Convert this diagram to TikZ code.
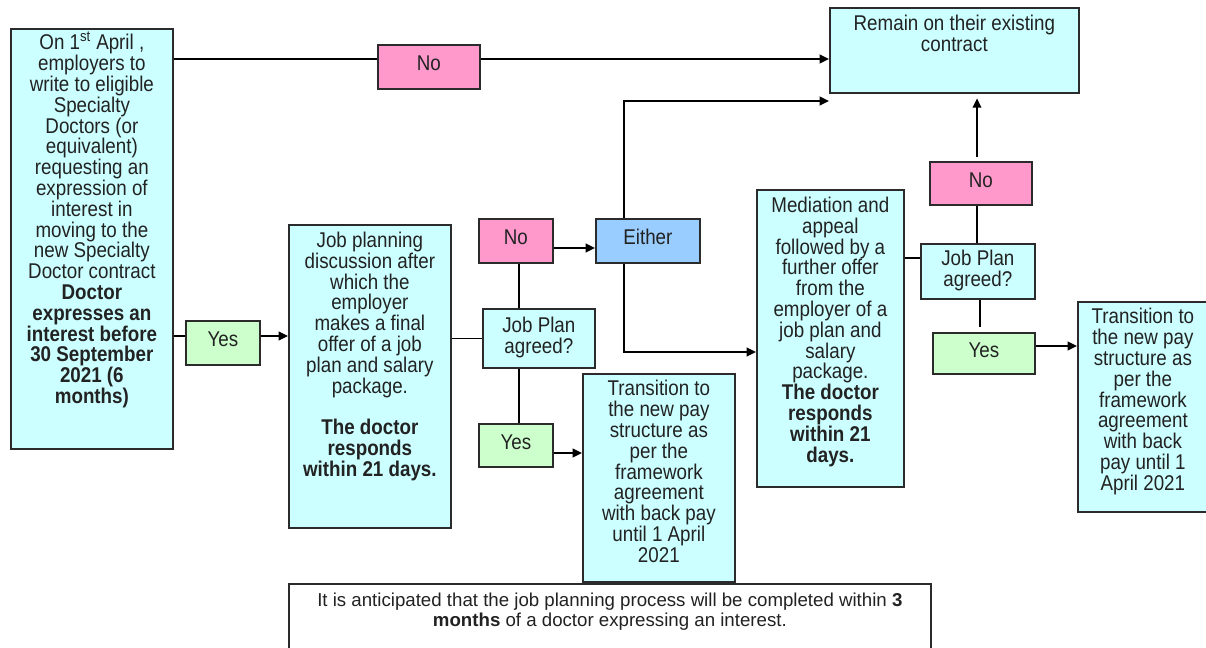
\documentclass[tikz,border=0pt]{standalone}
\usepackage{fontspec}
\setmainfont{Liberation Sans}
\newfontfamily\boxfont{Liberation Sans}[FakeStretch=0.88]
\usetikzlibrary{arrows.meta}
\definecolor{aqua}{HTML}{CCFFFF}
\definecolor{rose}{HTML}{FF99CC}
\definecolor{mint}{HTML}{CCFFCC}
\definecolor{sky}{HTML}{99CCFF}
\definecolor{edge}{HTML}{2B2B2B}
\definecolor{inkgray}{HTML}{222222}
\newdimen\pxu \pxu=0.75pt
\newcommand\cardtext[4]{\parbox[c][#2\pxu][t]{#1\pxu}{\centering\rule{0pt}{#3\pxu}#4\par}}

\begin{document}
\begin{tikzpicture}[x=0.75pt,y=-0.75pt,>={Triangle[length=7pt,width=6.5pt]},
  card/.style={draw=edge,line width=1.3pt,fill=aqua,inner sep=0pt,anchor=north west,
    text=inkgray,font=\boxfont\fontsize{16}{15.6}\selectfont},
  tag/.style={draw=edge,line width=1.3pt,inner sep=0pt,anchor=north west,text=inkgray,
    font=\boxfont\fontsize{16}{15.6}\selectfont,text height=11.5pt,text depth=6pt},
  link/.style={line width=1.2pt,black}]
  \useasboundingbox (0,0) rectangle (1206,648);
  % boxes
  \node[card] (lbox) at (10,28) {\cardtext{162}{420}{21}{On 1\textsuperscript{st} April ,\\ employers to\\ write to eligible\\ Specialty\\ Doctors (or\\ equivalent)\\ requesting an\\ expression of\\ interest in\\ moving to the\\ new Specialty\\ Doctor contract\\ {\bfseries Doctor\\ expresses an\\ interest before\\ 30 September\\ 2021 (6\\ months)}}};
  \node[card] (remain) at (829,7) {\cardtext{249}{85}{23}{Remain on their existing\\ contract}};
  \node[card] (offer) at (288,224) {\cardtext{162}{303}{22.7}{Job planning\\ discussion after\\ which the\\ employer\\ makes a final\\ offer of a job\\ plan and salary\\ package.\\[15.6pt] {\bfseries The doctor\\ responds\\ within 21 days.}}};
  \node[card] (plan1) at (482,308) {\cardtext{112}{59}{23.7}{Job Plan\\ agreed?}};
  \node[card] (trans1) at (582,373) {\cardtext{152}{208}{22}{Transition to\\ the new pay\\ structure as\\ per the\\ framework\\ agreement\\ with back pay\\ until 1 April\\ 2021}};
  \node[card] (appeal) at (756,189) {\cardtext{147}{297}{22.7}{Mediation and\\ appeal\\ followed by a\\ further offer\\ from the\\ employer of a\\ job plan and\\ salary\\ package.\\ {\bfseries The doctor\\ responds\\ within 21\\ days.}}};
  \node[card] (plan2) at (920,243) {\cardtext{114}{55}{22}{Job Plan\\ agreed?}};
  \node[card] (trans2) at (1077,301) {\cardtext{130}{210}{22}{Transition to\\ the new pay\\ structure as\\ per the\\ framework\\ agreement\\ with back\\ pay until 1\\ April 2021}};
  \node[card,fill=white,font=\fontsize{14}{15}\selectfont] (note) at (288,583) {\cardtext{642}{80}{22.7}{It is anticipated that the job planning process will be completed within \textbf{3}\\ \textbf{months} of a doctor expressing an interest.}};
  % answers
  \node[tag,fill=rose,minimum width=76.5pt,minimum height=33pt] (no1) at (377,44) {No};
  \node[tag,fill=mint,minimum width=55.5pt,minimum height=33pt] (yes1) at (185,320) {Yes};
  \node[tag,fill=rose,minimum width=55.5pt,minimum height=33pt] (no2) at (478,218) {No};
  \node[tag,fill=sky,minimum width=78pt,minimum height=33pt] (either) at (595,218) {Either};
  \node[tag,fill=mint,minimum width=55.5pt,minimum height=32.25pt] (yes2) at (478,423) {Yes};
  \node[tag,fill=rose,minimum width=76.5pt,minimum height=32.25pt] (no3) at (929,161) {No};
  \node[tag,fill=mint,minimum width=76.5pt,minimum height=30.75pt] (yes3) at (932,332) {Yes};
  % connectors
  \coordinate (rowno) at (0,59);
  \coordinate (rowyes) at (0,336);
  \coordinate (rowno2) at (0,248);
  \coordinate (rowyes2) at (0,453);
  \coordinate (rowup) at (0,101);
  \coordinate (rowdown) at (0,352);
  \coordinate (rowappeal) at (0,258);
  \coordinate (rowyes3) at (0,346);
  \coordinate (stem1) at (519,0);
  \coordinate (fork) at (624,0);
  \coordinate (stem2) at (977,0);
  \coordinate (stem3) at (980,0);
  \draw[link] (lbox.east |- rowno) -- (no1.west |- rowno);
  \draw[link,->] (no1.east |- rowno) -- (remain.west |- rowno);
  \draw[link] (lbox.east |- rowyes) -- (yes1.west |- rowyes);
  \draw[link,->] (yes1.east |- rowyes) -- (offer.west |- rowyes);
  \draw[link] (offer.east |- plan1.west) -- (plan1.west);
  \draw[link] (stem1 |- no2.south) -- (stem1 |- plan1.north);
  \draw[link] (stem1 |- plan1.south) -- (stem1 |- yes2.north);
  \draw[link,->] (no2.east |- rowno2) -- (either.west |- rowno2);
  \draw[link,->] (yes2.east |- rowyes2) -- (trans1.west |- rowyes2);
  \draw[link,->] (fork |- either.north) |- (remain.west |- rowup);
  \draw[link,->] (fork |- either.south) |- (appeal.west |- rowdown);
  \draw[link] (appeal.east |- rowappeal) -- (plan2.west |- rowappeal);
  \draw[link] (stem2 |- no3.south) -- (stem2 |- plan2.north);
  \draw[link,->,shorten <=3pt,shorten >=3.5pt] (stem2 |- no3.north) -- (stem2 |- remain.south);
  \draw[link,shorten >=4pt] (stem3 |- plan2.south) -- (stem3 |- yes3.north);
  \draw[link,->] (yes3.east |- rowyes3) -- (trans2.west |- rowyes3);
\end{tikzpicture}
\end{document}
